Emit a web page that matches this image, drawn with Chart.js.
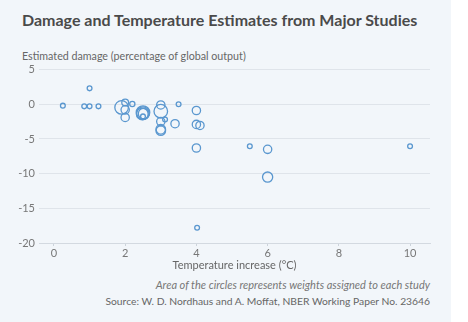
<!DOCTYPE html>
<html>
<head>
<meta charset="utf-8">
<script src="https://cdn.jsdelivr.net/npm/chart.js@4/dist/chart.umd.min.js"></script>
<style>
  body { margin: 0; background: #fff; font-family: Lato, "Open Sans", sans-serif; }
  #wrap { position: relative; width: 451px; height: 322px; background: #f2f6fa; }
  #title { position: absolute; left: 22px; top: 10px; font-size: 16px; font-weight: 700; color: #4a4a4a; white-space: nowrap; }
  #ylab { position: absolute; left: 22px; top: 49px; font-size: 10.7px; color: #666; white-space: nowrap; }
  #box { position: absolute; left: 0; top: 59px; width: 451px; height: 213px; }
  #notes { position: absolute; right: 21px; top: 276px; text-align: right; color: #666; line-height: 14px; white-space: nowrap; }
  #notes i { color: #777; font-size: 11px; }
  #notes span { font-size: 10.3px; }
</style>
</head>
<body>
<div id="wrap">
  <div id="title">Damage and Temperature Estimates from Major Studies</div>
  <div id="ylab">Estimated damage (percentage of global output)</div>
  <div id="box"><canvas id="chart"></canvas></div>
  <div id="notes"><i>Area of the circles represents weights assigned to each study</i><br><span>Source: W. D. Nordhaus and A. Moffat, NBER Working Paper No. 23646</span></div>
</div>
<script>
// Studies: temperature increase (°C), estimated damage (% of output), weight
const temps = [0.25, 0.85, 1.0, 1.25, 1.0, 1.9, 2.0, 2.0, 2.0, 2.2, 2.5, 2.5, 2.48, 2.52, 2.5,
  3.0, 3.0, 3.12, 3.0, 3.0, 3.0, 3.4, 3.5, 4.0, 4.0, 4.1, 4.0, 4.02, 5.5, 6.0, 6.0, 10.0];
const damages = [-0.2, -0.3, -0.3, -0.3, 2.3, -0.45, 0.25, -0.8, -1.9, 0.05, -1.2, -1.3, -1.4, -1.35, -1.75,
  -0.1, -1.0, -2.2, -2.5, -3.6, -3.8, -2.8, 0.0, -0.9, -2.9, -3.05, -6.3, -17.8, -6.05, -6.5, -10.5, -6.05];
const weights = [1, 1, 1, 1, 1, 8, 2, 3, 3, 1.2, 8, 7, 6, 5, 1,
  3, 8, 1, 3, 4, 4, 3, 1, 3, 3, 3, 3, 1, 1, 3, 4.5, 1];
const xTicks = [0, 2, 4, 6, 8, 10];
const yTicks = [-20, -15, -10, -5, 0, 5];

const points = temps.map((t, i) => ({ x: t, y: damages[i] }));
const radiusFor = (ctx) => Math.sqrt(weights[ctx.dataIndex] || 1) * 2.4;

new Chart(document.getElementById("chart"), {
  type: "scatter",
  data: {
    datasets: [
      {
        data: points,
        backgroundColor: "rgba(0,0,0,0)",
        borderColor: "#5a97cf",
        borderWidth: 1.3,
        pointRadius: radiusFor,
        pointHoverRadius: radiusFor,
      },
    ],
  },
  options: {
    responsive: true,
    maintainAspectRatio: false,
    animation: false,
    layout: { padding: { top: 4, right: 21, left: 0, bottom: 0 } },
    plugins: { legend: { display: false }, tooltip: { enabled: false } },
    scales: {
      x: {
        type: "linear",
        min: -0.42,
        max: 10.56,
        afterFit: (s) => { s.height = 29; },
        afterBuildTicks: (s) => { s.ticks = xTicks.map((v) => ({ value: v })); },
        ticks: { stepSize: 2, includeBounds: false, padding: 1, color: "#777", font: { family: "Lato", size: 11 } },
        grid: { drawOnChartArea: false, drawTicks: true, tickLength: 3, tickColor: "#ccd3db" },
        border: { display: true, color: "#d3d9e0" },
        title: {
          display: true,
          text: "Temperature increase (°C)",
          color: "#666",
          padding: { top: 0, bottom: 0 },
          font: { family: "Lato", size: 11 },
        },
      },
      y: {
        min: -20,
        max: 5,
        afterFit: (s) => { s.width = 39; },
        afterBuildTicks: (s) => { s.ticks = yTicks.map((v) => ({ value: v })); },
        ticks: { stepSize: 5, padding: 4, color: "#777", font: { family: "Lato", size: 11 } },
        grid: { color: "#dfe4ea", drawTicks: false },
        border: { display: false },
      },
    },
  },
});
</script>
</body>
</html>
